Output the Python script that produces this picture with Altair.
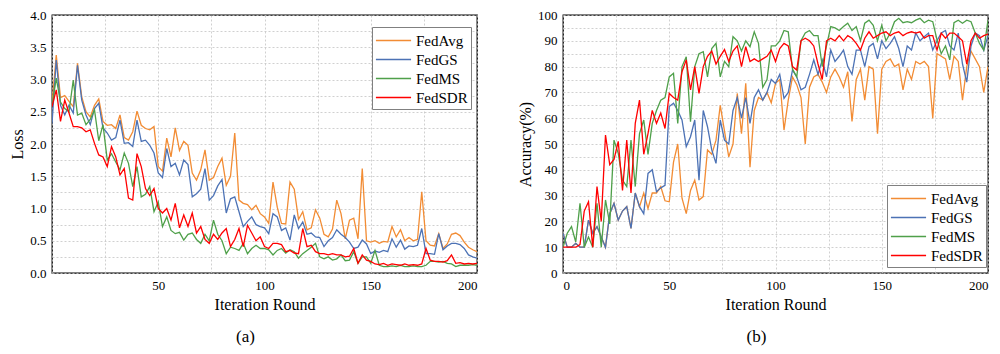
import altair as alt
import pandas as pd

ITER = list(range(0, 201, 2))
METHODS = ["FedAvg", "FedGS", "FedMS", "FedSDR"]
COLORS = ["#F28C34", "#4C72B5", "#4FA04A", "#FF0000"]

# ---------------- Loss (panel a) ----------------
loss_fedavg = [
    2.60, 3.38, 2.72, 2.75, 2.66, 2.58, 3.25, 2.73, 2.50, 2.42,
    2.60, 2.70, 2.35, 2.29, 2.30, 2.24, 2.45, 2.10, 2.06, 2.19,
    2.51, 2.29, 2.24, 2.22, 2.27, 1.65, 1.58, 2.09, 1.80, 2.25,
    1.90, 2.04, 1.98, 1.55, 1.44, 1.60, 1.91, 1.44, 1.48, 1.65,
    1.78, 1.36, 1.50, 2.17, 1.13, 1.08, 1.06, 0.98, 1.05, 0.92,
    0.87, 0.77, 1.41, 1.02, 0.77, 0.76, 1.41, 1.30, 0.83, 0.95,
    0.67, 0.70, 0.98, 0.85, 0.60, 0.56, 0.68, 1.13, 0.92, 0.53,
    0.82, 0.85, 0.53, 1.62, 0.50, 0.48, 0.50, 0.46, 0.49, 0.48,
    0.72, 0.56, 0.67, 0.50, 0.55, 0.50, 0.52, 1.26, 0.50, 0.43,
    0.42, 0.61, 0.38, 0.45, 0.60, 0.62, 0.58, 0.48, 0.40, 0.36,
    0.33,
]
loss_fedgs = [
    2.32, 3.30, 2.60, 2.45, 2.60, 2.48, 3.22, 2.68, 2.45, 2.30,
    2.55, 2.63, 2.25, 2.17, 2.06, 2.10, 2.37, 2.01, 2.02, 1.96,
    2.37, 2.04, 2.06, 1.98, 1.86, 1.55, 1.48, 1.93, 1.65, 1.70,
    1.52, 1.75, 1.68, 1.18, 1.23, 1.30, 1.62, 1.13, 1.20, 1.35,
    1.45, 0.93, 1.15, 1.18, 0.95, 0.72, 0.80, 0.87, 0.75, 0.72,
    0.70, 0.61, 0.92, 0.87, 0.66, 0.70, 0.51, 0.90, 0.69, 0.79,
    0.60, 0.62, 0.56, 0.55, 0.41, 0.50, 0.55, 0.67, 0.60, 0.55,
    0.48, 0.38, 0.40, 0.51, 0.45, 0.30, 0.34, 0.32, 0.35, 0.33,
    0.53, 0.40, 0.51, 0.37, 0.42, 0.41, 0.43, 0.69, 0.30, 0.30,
    0.29, 0.61, 0.36, 0.42, 0.46, 0.46, 0.44, 0.38, 0.28, 0.25,
    0.23,
]
loss_fedms = [
    2.60, 3.02, 2.65, 2.55, 2.50, 2.99, 2.45, 2.48, 2.30, 2.38,
    2.53, 2.05, 2.30, 1.75, 1.85, 1.72, 1.60, 1.86, 1.70, 1.34,
    1.65, 1.18, 1.22, 1.34, 0.95, 1.10, 0.72, 0.87, 0.66, 0.61,
    0.63, 0.51, 0.60, 0.62, 0.52, 0.46, 0.60, 0.50, 0.82, 0.60,
    0.50, 0.30, 0.40, 0.38, 0.35, 0.46, 0.30, 0.38, 0.43, 0.38,
    0.38, 0.36, 0.28, 0.35, 0.38, 0.31, 0.36, 0.33, 0.23, 0.30,
    0.35, 0.40, 0.46, 0.25, 0.22, 0.25, 0.20, 0.22, 0.28, 0.19,
    0.20, 0.33, 0.15, 0.25, 0.25, 0.15, 0.35, 0.12, 0.10, 0.10,
    0.11, 0.10, 0.12, 0.10, 0.10, 0.11, 0.10, 0.10, 0.12, 0.18,
    0.18, 0.17, 0.18, 0.15, 0.14, 0.10, 0.12, 0.12, 0.12, 0.13,
    0.12,
]
loss_fedsdr = [
    2.58, 2.84, 2.35, 2.68, 2.48, 2.27, 2.27, 2.25, 2.19, 2.22,
    2.01, 1.83, 1.80, 1.65, 1.96, 1.80, 1.52, 1.62, 1.16, 1.13,
    1.85, 1.65, 1.31, 1.20, 1.31, 1.00, 0.93, 1.00, 0.82, 1.08,
    0.70, 0.90, 0.72, 0.93, 0.62, 0.72, 0.52, 0.46, 0.60, 0.52,
    0.62, 0.69, 0.41, 0.52, 0.69, 0.41, 0.74, 0.62, 0.50, 0.56,
    0.41, 0.38, 0.46, 0.46, 0.44, 0.33, 0.35, 0.31, 0.30, 0.69,
    0.41, 0.43, 0.33, 0.30, 0.30, 0.28, 0.30, 0.28, 0.28, 0.25,
    0.26, 0.38, 0.15, 0.28, 0.20, 0.18, 0.14, 0.13, 0.15, 0.12,
    0.14, 0.13, 0.12, 0.14, 0.12, 0.13, 0.12, 0.14, 0.38, 0.20,
    0.18, 0.18, 0.17, 0.19, 0.28, 0.15, 0.16, 0.14, 0.15, 0.14,
    0.15,
]

# ---------------- Accuracy (panel b) ----------------
acc_fedavg = [
    15.4, 10, 10, 11.5, 10, 10, 20.5, 15.4, 18, 14,
    10, 23, 27, 20.5, 24, 25.7, 17.3, 31, 25.7, 31,
    25, 31, 31, 33.5, 28, 27.6, 43, 50, 29, 23,
    32, 36, 28.3, 29.6, 47.7, 46, 51.5, 65, 55, 45,
    50, 69.6, 54, 73.5, 41, 63, 68, 67, 70, 66,
    73.5, 75, 55.4, 67, 76, 73, 68, 50, 72, 76,
    77, 74, 70, 76, 79, 76, 72, 78, 58.7, 75,
    79, 67, 80, 79, 54, 79, 82, 83, 80, 81,
    71, 79, 75, 82, 81, 82, 80, 60, 85, 84,
    83, 75, 84, 82, 67, 80, 86, 83, 80, 70,
    80,
]
acc_fedgs = [
    15.4, 10, 10, 11.5, 10, 10, 20.5, 15.4, 18, 14,
    10, 23, 27, 20.5, 24, 25.7, 17.3, 31, 25.7, 23,
    38.6, 40, 31.5, 33, 34, 64.5, 65.8, 63, 59.3, 49,
    52.8, 59.3, 36, 63, 56.7, 47.7, 42.5, 59.3, 51.5, 50,
    63, 68, 60, 68, 58, 68, 71, 67, 70, 75,
    73.5, 77, 67.7, 70, 78.7, 76, 71, 72, 77, 82.6,
    77, 82.6, 76, 86.4, 82, 84, 86.4, 80, 77, 86.4,
    86.4, 80, 87.7, 89, 83, 90, 87, 89, 91.6, 87,
    80, 88, 86.4, 93, 90, 91.6, 93, 86.4, 90, 93,
    94, 88, 86.4, 93, 81, 74, 88, 93, 92, 86.4,
    92,
]
acc_fedms = [
    10, 15.4, 18, 12, 27, 10, 14, 10, 27, 10,
    28.3, 19, 51.5, 46.4, 36, 33.5, 51.5, 33.5, 54, 59.3,
    46, 58, 63, 67, 68, 76, 77.4, 58, 80, 83.8,
    58.6, 80, 85, 85.8, 76, 87, 89, 76, 82, 80,
    91.6, 90, 86, 90, 87.7, 93.5, 89, 72, 75, 88,
    88, 90, 94, 93.5, 79, 76, 90, 93, 94, 92,
    92, 80, 88, 95.5, 95, 94, 95.5, 96.8, 94, 95.5,
    90, 96.8, 98, 96, 90, 96, 90, 93, 97.4, 98.7,
    97, 97.4, 97, 98, 98.7, 97, 98, 97.4, 90.4, 85,
    88, 82.6, 97, 98, 96.8, 98, 97.4, 93, 89, 86.4,
    98,
]
acc_fedsdr = [
    10, 10, 10, 10, 11, 24, 27.6, 10, 33.5, 20,
    53.5, 42, 44, 51, 32, 51.5, 31, 58, 67, 46,
    54, 63, 58, 62, 56, 69.6, 68, 67, 78, 82.6,
    71, 80, 69.6, 80, 84, 86, 81, 84, 86.6, 82,
    86, 88, 80, 87.7, 82, 83, 82, 83, 84, 86.4,
    82, 87, 89, 88, 80, 78.7, 90, 91, 90, 88,
    81, 75, 90, 91, 90, 92, 90, 92, 91, 89,
    86.4, 91, 93.5, 91, 92, 93, 93.5, 92, 93, 93.5,
    92, 93, 93.5, 93, 93.5, 91, 92, 92, 86.4, 93,
    91, 93, 93, 91.6, 90, 81, 90, 93, 91, 92,
    92.6,
]

LOSS_TICKS = [0, 0.25, 0.5, 0.75, 1.0, 1.25, 1.5, 1.75, 2.0, 2.25, 2.5,
              2.75, 3.0, 3.25, 3.5, 3.75, 4.0]
ACC_TICKS = [0, 5, 10, 15, 20, 25, 30, 35, 40, 45, 50, 55, 60, 65, 70, 75,
             80, 85, 90, 95, 100]
X_TICKS = [0, 25, 50, 75, 100, 125, 150, 175, 200]

FONT = "Liberation Serif"


def to_long(series):
    rows = []
    for m, vals in zip(METHODS, series):
        for it, v in zip(ITER, vals):
            rows.append({"iter": it, "value": v, "method": m})
    return pd.DataFrame(rows)


def panel(df, ytitle, ydomain, yticks, ylabel_expr, xlabel_expr, lx, ly, sub):
    return alt.Chart(df).mark_line(strokeWidth=1.3, clip=True).encode(
        x=alt.X("iter:Q",
                scale=alt.Scale(domain=[0, 200], nice=False, zero=False),
                axis=alt.Axis(title="Iteration Round", values=X_TICKS,
                              labelExpr=xlabel_expr)),
        y=alt.Y("value:Q",
                scale=alt.Scale(domain=ydomain, nice=False),
                axis=alt.Axis(title=ytitle, values=yticks,
                              labelExpr=ylabel_expr)),
        color=alt.Color("method:N",
                        scale=alt.Scale(domain=METHODS, range=COLORS),
                        legend=alt.Legend(title=None, orient="none",
                                          legendX=lx, legendY=ly)),
        order=alt.Order("iter:Q"),
    ).properties(
        width=425, height=258,
        title=alt.TitleParams(text=sub, orient="bottom", font=FONT,
                              fontSize=17, fontWeight="normal", offset=17,
                              dx=-19, anchor="middle", color="black"),
    )


left = panel(to_long([loss_fedavg, loss_fedgs, loss_fedms, loss_fedsdr]),
             "Loss", [0, 4], LOSS_TICKS,
             "datum.value % 0.5 === 0 ? format(datum.value, '.1f') : ''",
             "datum.value % 50 === 0 && datum.value > 0 ? '' + datum.value : ''",
             320, 12, "(a)")
right = panel(to_long([acc_fedavg, acc_fedgs, acc_fedms, acc_fedsdr]),
              "Accuracy(%)", [0, 100], ACC_TICKS,
              "datum.value % 10 === 0 ? '' + datum.value : ''",
              "datum.value % 50 === 0 ? '' + datum.value : ''",
              324, 170, "(b)")

chart = alt.hconcat(left, right, spacing=38).resolve_scale(
    color="independent"
).resolve_legend(
    color="independent"
).properties(
    padding={"left": 1, "top": 0, "right": 0, "bottom": 0}
).configure_view(
    stroke="black", strokeWidth=1.3
).configure_axis(
    labelFont=FONT, labelFontSize=13, labelColor="black",
    titleFont=FONT, titleFontSize=16, titleFontWeight="normal",
    titleColor="black", grid=True, gridColor="#c4c4c4", gridDash=[2, 2],
    gridWidth=0.8, ticks=False, domain=False, labelPadding=6,
    titlePadding=4,
).configure_legend(
    labelFont=FONT, labelFontSize=15, labelColor="black",
    symbolType="M-1.85,0H1.85", symbolStrokeWidth=1.6, symbolSize=361,
    symbolOffset=8, strokeColor="#808080", fillColor="white", padding=3,
    rowPadding=0, labelOffset=12, labelLimit=0, cornerRadius=0,
)

chart.save("out.html", embed_options={"renderer": "svg", "actions": False})
